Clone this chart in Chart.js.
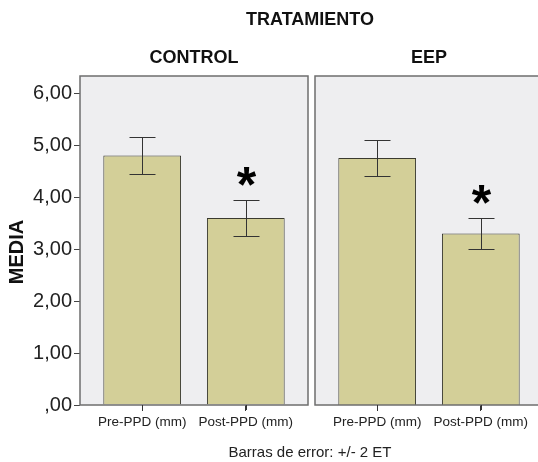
<!DOCTYPE html>
<html>
<head>
<meta charset="utf-8">
<script src="https://cdn.jsdelivr.net/npm/chart.js@4.4.1/dist/chart.umd.min.js"></script>
<style>
  html, body { margin: 0; padding: 0; background: #fff; overflow: hidden; }
  #wrap { position: relative; width: 538px; height: 462px; overflow: hidden;
          font-family: "Liberation Sans", Arial, sans-serif; color: #111; }
  #box1 { position: absolute; left: 0; top: 0; width: 311px; height: 462px; }
  #box2 { position: absolute; left: 313px; top: 0; width: 233px; height: 462px; }
  .lbl { position: absolute; left: 80px; width: 460px; text-align: center; }
  #title { top: 9px; font-size: 18px; font-weight: bold; line-height: 20px; }
  #foot { top: 443px; font-size: 15px; line-height: 17px; color: #222; }
</style>
</head>
<body>
<div id="wrap">
  <div id="box1"><canvas id="c1"></canvas></div>
  <div id="box2"><canvas id="c2"></canvas></div>
  <div id="title" class="lbl">TRATAMIENTO</div>
  <div id="foot" class="lbl">Barras de error: +/- 2 ET</div>
</div>
<script>
// data
const panels = ["CONTROL", "EEP"];
const categories = ["Pre-PPD (mm)", "Post-PPD (mm)"];
const controlMeans = [4.80, 3.60];
const controlErr = [0.35, 0.34];   // +/- 2 ET
const eepMeans = [4.75, 3.30];
const eepErr = [0.35, 0.30];
const significant = [false, true];
const yTicks = [0, 1, 2, 3, 4, 5, 6];
const yTickLabels = [",00", "1,00", "2,00", "3,00", "4,00", "5,00", "6,00"];
const yTitle = "MEDIA";

Chart.defaults.font.family = '"Liberation Sans", Arial, sans-serif';

// grey panel with frame and its title on top
const panelFrame = {
  id: "panelFrame",
  beforeDraw(chart, args, opts) {
    const { ctx, chartArea: a } = chart;
    ctx.save();
    ctx.fillStyle = "#eeeef0";
    ctx.fillRect(a.left, a.top, a.right - a.left, a.bottom - a.top);
    ctx.fillStyle = "#111";
    ctx.font = 'bold 18px "Liberation Sans", Arial, sans-serif';
    ctx.textAlign = "center";
    ctx.textBaseline = "middle";
    ctx.fillText(opts.text, (a.left + a.right) / 2, 58);
    if (opts.yTitle) {
      // axis title sits a bit below the middle of the axis in the original
      ctx.translate(17, 252);
      ctx.rotate(-Math.PI / 2);
      ctx.font = 'bold 20px "Liberation Sans", Arial, sans-serif';
      ctx.fillText(opts.yTitle, 0, 0);
    }
    ctx.restore();
  },
  afterDraw(chart) {
    const { ctx, chartArea: a } = chart;
    const x = chart.scales.x;
    ctx.save();
    ctx.strokeStyle = "#6e6e6e";
    ctx.lineWidth = 1.5;
    ctx.strokeRect(a.left, a.top, a.right - a.left, a.bottom - a.top);
    // small ticks under each bar
    ctx.strokeStyle = "#333";
    ctx.lineWidth = 1;
    ctx.beginPath();
    x.ticks.forEach((t, i) => {
      const px = Math.round(x.getPixelForTick(i)) + 0.5;
      ctx.moveTo(px, a.bottom);
      ctx.lineTo(px, a.bottom + 5);
    });
    ctx.stroke();
    ctx.restore();
  }
};

const errorBars = {
  id: "errorBars",
  afterDatasetsDraw(chart, args, opts) {
    const { ctx } = chart;
    const y = chart.scales.y;
    const meta = chart.getDatasetMeta(0);
    ctx.save();
    ctx.strokeStyle = "#333";
    ctx.lineWidth = 1;
    meta.data.forEach((bar, i) => {
      const m = opts.means[i], e = opts.errs[i];
      const top = Math.round(y.getPixelForValue(m + e)) + 0.5;
      const bot = Math.round(y.getPixelForValue(m - e)) + 0.5;
      const x = Math.round(bar.x) + 0.5;
      const hw = 13;
      ctx.beginPath();
      ctx.moveTo(x, top); ctx.lineTo(x, bot);
      ctx.moveTo(x - hw, top); ctx.lineTo(x + hw, top);
      ctx.moveTo(x - hw, bot); ctx.lineTo(x + hw, bot);
      ctx.stroke();
      if (significant[i]) {
        ctx.fillStyle = "#000";
        ctx.font = 'bold 50px "Liberation Sans", Arial, sans-serif';
        ctx.textAlign = "center";
        ctx.textBaseline = "alphabetic";
        ctx.fillText("*", x, top + 1);
      }
    });
    ctx.restore();
  }
};

function makeChart(id, title, means, errs, showY) {
  return new Chart(document.getElementById(id), {
    type: "bar",
    data: {
      datasets: [{
        data: means.map((m, i) => ({ x: i, y: m })),
        backgroundColor: "#d3cf98",
        borderColor: "#3a3a30",
        borderWidth: 1,
        barPercentage: 0.75,
        categoryPercentage: 1
      }]
    },
    options: {
      responsive: true,
      maintainAspectRatio: false,
      animation: false,
      layout: { padding: { left: showY ? 0 : 2, right: 3, top: 76, bottom: 0 } },
      plugins: {
        legend: { display: false },
        tooltip: { enabled: false },
        title: { display: false },
        panelFrame: { text: title, yTitle: showY ? yTitle : null },
        errorBars: { means: means, errs: errs }
      },
      scales: {
        x: {
          type: "linear",
          offset: false,
          min: -0.6,
          max: 1.6,
          afterBuildTicks: s => { s.ticks = categories.map((c, i) => ({ value: i })); },
          afterFit: s => { s.height = 57; },
          grid: { drawOnChartArea: false, offset: false, tickLength: 6, tickColor: "#333", tickWidth: 1 },
          border: { display: false },
          ticks: {
            autoSkip: false,
            maxRotation: 0,
            padding: 3,
            color: "#222",
            font: { size: 13.5 },
            callback: v => categories[v]
          }
        },
        y: {
          display: showY,
          min: 0,
          max: 6.33,
          afterBuildTicks: s => { s.ticks = yTicks.map(v => ({ value: v })); },
          afterFit: s => { if (showY) s.width = 80; },
          grid: { drawOnChartArea: false, tickLength: 6, tickColor: "#444" },
          border: { display: false },
          ticks: {
            padding: 2,
            color: "#222",
            font: { size: 20 },
            callback: (v) => yTickLabels[yTicks.indexOf(v)]
          }
        }
      }
    },
    plugins: [panelFrame, errorBars]
  });
}

makeChart("c1", panels[0], controlMeans, controlErr, true);
makeChart("c2", panels[1], eepMeans, eepErr, false);
</script>
</body>
</html>
